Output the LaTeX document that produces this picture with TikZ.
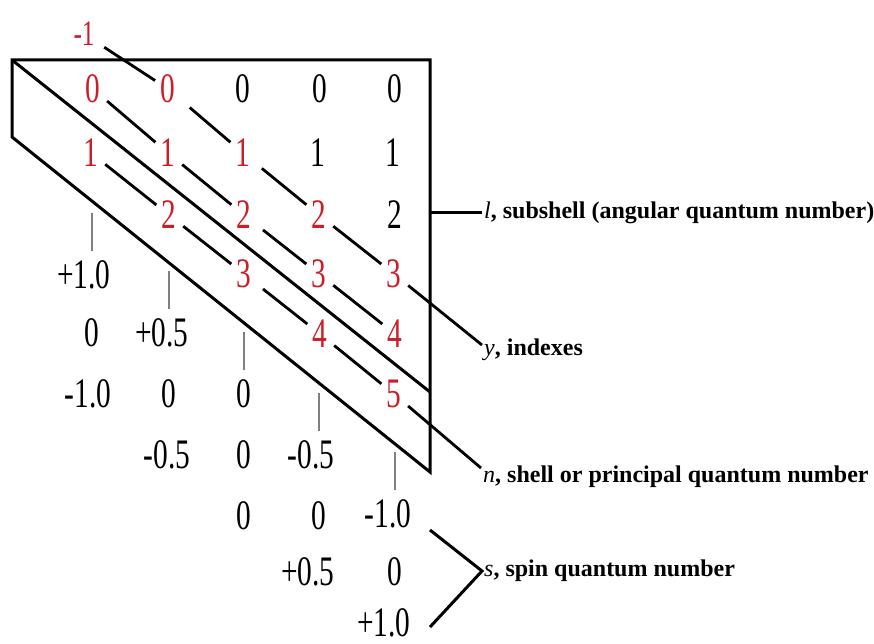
\documentclass[tikz,border=0pt]{standalone}
\usepackage{fontspec}
\setmainfont{Liberation Serif}
\newfontfamily\numfont[FakeStretch=0.7]{Liberation Serif}
\usepackage{tikz}
\usepackage{xcolor}
\definecolor{numred}{RGB}{205,30,40}
\newcommand\qn[1]{\textmd{\textit{#1}}}

\begin{document}
\begin{tikzpicture}[
    x=1pt, y=-1pt,
    num/.style={font=\numfont\fontsize{42}{42}\selectfont, inner sep=2pt, text=#1},
    num/.default=black,
    link/.style={line width=2.8pt, shorten <=6pt, shorten >=4pt},
    frame/.style={line width=3pt},
    tick/.style={line width=1.2pt, gray},
    lab/.style={anchor=west, inner sep=2pt, font=\fontsize{24}{24}\selectfont\bfseries}
]
\useasboundingbox (0,0) rectangle (874,644);

% the box
\coordinate (tl) at (12,60);
\coordinate (tr) at (430,60);
\coordinate (bl) at (12,137);
\coordinate (br) at (430,472);
\coordinate (mr) at (430,392);
\draw[frame] (bl) -- (tl) -- (tr) -- (br) -- cycle;
\draw[frame] (tl) -- (mr);

% indexes, l and n
\node[num=numred, font=\numfont\fontsize{36}{36}\selectfont] (m1) at (84,34) {-1};
\node[num=numred] (r0c1) at (93,89) {0};
\node[num=numred] (r0c2) at (168,89) {0};
\node[num] (r0c3) at (243,89) {0};
\node[num] (r0c4) at (320,89) {0};
\node[num] (r0c5) at (395,89) {0};
\node[num=numred] (r1c1) at (91,153) {1};
\node[num=numred] (r1c2) at (168,153) {1};
\node[num=numred] (r1c3) at (243,153) {1};
\node[num] (r1c4) at (318,153) {1};
\node[num] (r1c5) at (393,153) {1};
\node[num=numred] (r2c2) at (169,215) {2};
\node[num=numred] (r2c3) at (244,215) {2};
\node[num=numred] (r2c4) at (319,215) {2};
\node[num] (r2c5) at (395,215) {2};
\node[num=numred] (r3c3) at (244,274) {3};
\node[num=numred] (r3c4) at (319,274) {3};
\node[num=numred] (r3c5) at (394,274) {3};
\node[num=numred] (r4c4) at (320,334) {4};
\node[num=numred] (r4c5) at (395,334) {4};
\node[num=numred] (r5c5) at (394,394) {5};

\draw[link, shorten <=9pt] (m1) -- (r0c2);
\draw[link] (r0c1) -- (r1c2);
\draw[link, shorten <=16pt] (r0c2) -- (r1c3);
\draw[link] (r1c1) -- (r2c2);
\draw[link] (r1c2) -- (r2c3);
\draw[link, shorten <=12pt] (r1c3) -- (r2c4);
\draw[link] (r2c2) -- (r3c3);
\draw[link, shorten <=12pt] (r2c3) -- (r3c4);
\draw[link] (r2c4) -- (r3c5);
\draw[link, shorten <=12pt] (r3c3) -- (r4c4);
\draw[link] (r3c4) -- (r4c5);
\draw[link] (r4c4) -- (r5c5);

% spin values
\node[num] (s1a) at (84,275) {+1.0};
\node[num] (s1b) at (92,333) {0};
\node[num] (s1c) at (88,394) {-1.0};
\node[num] (s2a) at (162,333) {+0.5};
\node[num] (s2b) at (169,394) {0};
\node[num] (s2c) at (167,455) {-0.5};
\node[num] (s3a) at (244,394) {0};
\node[num] (s3b) at (244,455) {0};
\node[num] (s3c) at (244,516) {0};
\node[num] (s4a) at (311,455) {-0.5};
\node[num] (s4b) at (319,516) {0};
\node[num] (s4c) at (308,572) {+0.5};
\node[num] (s5a) at (388,514) {-1.0};
\node[num] (s5b) at (395,572) {0};
\node[num] (s5c) at (384,623) {+1.0};

\draw[tick] (s1a.north -| s1b) ++(0,-8) -- ++(0,-38);
\draw[tick] (s2a.north -| s2b) ++(0,-8) -- ++(0,-38);
\draw[tick] (s3a.north) ++(0,-8) -- ++(0,-38);
\draw[tick] (s4a.north -| s4b) ++(0,-8) -- ++(0,-38);
\draw[tick] (s5a.north -| s5b) ++(0,-8) -- ++(0,-38);

% labels
\node[lab] (llab) at (482,213) {\qn{l}, subshell (angular quantum number)};
\node[lab] (ylab) at (482,350) {\qn{y}, indexes};
\node[lab] (nlab) at (481,477) {\qn{n}, shell or principal quantum number};
\node[lab] (slab) at (482,571) {\qn{s}, spin quantum number};

\coordinate (stop) at (430,530);
\coordinate (sbot) at (430,627);

\draw[frame] (llab.west -| tr) -- (llab.west);
\draw[link, shorten >=0pt] (r3c5) -- ([yshift=5pt]ylab.west);
\draw[link, shorten >=0pt] (r5c5) -- ([yshift=9pt]nlab.west);
\draw[frame] (stop) -- (slab.west) -- (sbot);
\end{tikzpicture}
\end{document}
